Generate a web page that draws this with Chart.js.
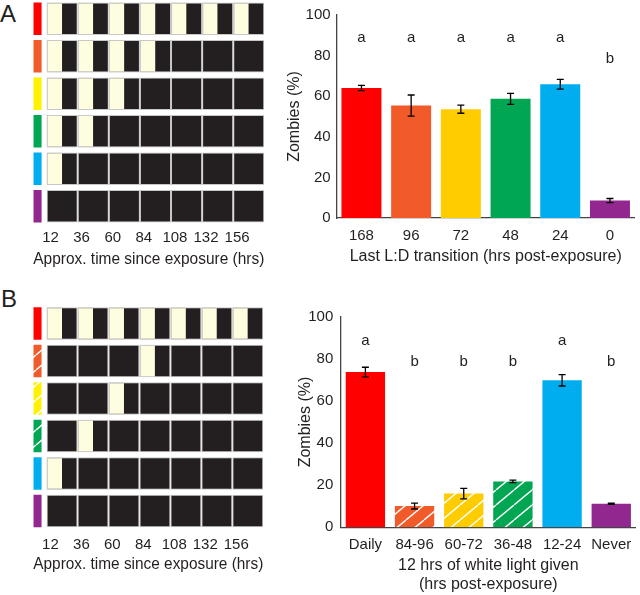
<!DOCTYPE html>
<html>
<head>
<meta charset="utf-8">
<script src="https://cdn.jsdelivr.net/npm/chart.js@4.4.1/dist/chart.umd.min.js"></script>
<style>
  body { margin: 0; background: #fff; width: 640px; height: 595px; position: relative; overflow: hidden;
         font-family: "Liberation Sans", Arial, sans-serif; color: #231f20; }
  canvas { position: absolute; }
  .panel { position: absolute; font-size: 24px; line-height: 24px; }
</style>
</head>
<body>
<div class="panel" style="left:0;top:2px">A</div>
<div class="panel" style="left:1px;top:287px">B</div>
<canvas id="schedA" width="280" height="280" style="left:0;top:0"></canvas>
<canvas id="barsA" width="360" height="280" style="left:280px;top:0"></canvas>
<canvas id="schedB" width="280" height="315" style="left:0;top:280px"></canvas>
<canvas id="barsB" width="360" height="315" style="left:280px;top:280px"></canvas>
<script>
// --- data ---
const timeTicks = [12, 36, 60, 84, 108, 132, 156];
const rowColors = ['#ff0000', '#f15a29', '#fff200', '#00a651', '#00aeef', '#92278f'];

// 1 = lights on for the first 12 h of that day
const scheduleA = [
  [1, 1, 1, 1, 1, 1, 1],
  [1, 1, 1, 1, 0, 0, 0],
  [1, 1, 1, 0, 0, 0, 0],
  [1, 1, 0, 0, 0, 0, 0],
  [1, 0, 0, 0, 0, 0, 0],
  [0, 0, 0, 0, 0, 0, 0]
];
const scheduleB = [
  [1, 1, 1, 1, 1, 1, 1],
  [0, 0, 0, 1, 0, 0, 0],
  [0, 0, 1, 0, 0, 0, 0],
  [0, 1, 0, 0, 0, 0, 0],
  [1, 0, 0, 0, 0, 0, 0],
  [0, 0, 0, 0, 0, 0, 0]
];
const hatchedB = [false, true, true, true, false, false];

const labelsA = ['168', '96', '72', '48', '24', '0'];
const zombiesA = [64.0, 55.4, 53.6, 58.7, 65.9, 8.6];
const errA = [1.3, 5.2, 2.0, 2.7, 2.4, 1.0];
const lettersA = ['a', 'a', 'a', 'a', 'a', 'b'];
const barColorsA = ['#ff0000', '#f15a29', '#ffcc00', '#00a651', '#00aeef', '#92278f'];

const labelsB = ['Daily', '84-96', '60-72', '36-48', '12-24', 'Never'];
const zombiesB = [73.7, 10.1, 16.0, 21.8, 69.8, 11.2];
const errB = [2.3, 1.4, 2.5, 0.6, 2.7, 0.3];
const lettersB = ['a', 'b', 'b', 'b', 'a', 'b'];
const barColorsB = ['#ff0000', '#f15a29', '#ffcc00', '#00a651', '#00aeef', '#92278f'];

const letterLevel = { a: 88.5, b: 78.5 };

// --- style ---
const FONT = '"Liberation Sans", Arial, sans-serif';
const INK = '#231f20';
const AXIS = '#444';
const CREAM = '#fffde0';
const DARK = '#231f20';
const CELL_EDGE = '#c8c8c8';
const DAY = 24, LIGHT = 12;
const X_MIN = -10.3, STRIP_FROM = -10.3, STRIP_TO = -3.9;
const TICK_SHIFT = 9;   // labels sit a little left of the hour they name

function hatch(color) {
  const w = 18, h = 15;
  const c = document.createElement('canvas');
  c.width = w; c.height = h;
  const g = c.getContext('2d');
  g.fillStyle = color;
  g.fillRect(0, 0, w, h);
  g.strokeStyle = '#fff';
  g.lineWidth = 1.4;
  for (const dx of [-w, 0, w]) {
    g.beginPath();
    g.moveTo(dx, h);
    g.lineTo(dx + w, 0);
    g.stroke();
  }
  return g.createPattern(c, 'repeat');
}

function scheduleChart(id, schedule, stripFill, geo) {
  const rows = schedule.map((_, i) => 'row' + i);
  const datasets = [{
    data: rows.map(() => [STRIP_FROM, STRIP_TO]),
    backgroundColor: stripFill,
    borderWidth: 0,
    order: 2
  }];
  for (let d = 0; d < 7; d++) {
    // whole day, dark, with a thin edge
    datasets.push({
      data: rows.map(() => [DAY * d, DAY * (d + 1)]),
      backgroundColor: DARK,
      borderColor: CELL_EDGE,
      borderWidth: 1,
      order: 1
    });
    // light phase on top, only where the lights were on
    datasets.push({
      data: schedule.map(r => r[d] ? [DAY * d, DAY * d + LIGHT] : null),
      backgroundColor: CREAM,
      borderColor: CELL_EDGE,
      borderWidth: { left: 1, top: 1, bottom: 1, right: 0 },
      order: 0
    });
  }

  new Chart(document.getElementById(id), {
    type: 'bar',
    data: { labels: rows, datasets },
    options: {
      responsive: false,
      animation: false,
      indexAxis: 'y',
      layout: { padding: geo.pad },
      datasets: { bar: { grouped: false, barPercentage: 0.867, categoryPercentage: 1, borderSkipped: false } },
      plugins: { legend: { display: false }, tooltip: { enabled: false } },
      scales: {
        y: { display: false },
        x: {
          type: 'linear',
          min: X_MIN,
          max: DAY * 7,
          grid: { display: false, drawTicks: false },
          border: { display: false },
          afterBuildTicks: s => { s.ticks = timeTicks.map(t => ({ value: t - TICK_SHIFT })); },
          ticks: {
            autoSkip: false, maxRotation: 0, padding: geo.tickPad, color: INK,
            font: { family: FONT, size: 15 },
            callback: (v, i) => String(timeTicks[i])
          },
          title: {
            display: true, text: 'Approx. time since exposure (hrs)', color: INK,
            font: { family: FONT, size: 16 }, padding: { top: 0, bottom: geo.titlePad }
          },
          afterFit: s => { s.height = geo.axisHeight; }
        }
      }
    }
  });
}

const errorBars = {
  id: 'errorBars',
  afterDatasetsDraw(chart, args, opts) {
    const { ctx } = chart;
    const y = chart.scales.y;
    const vals = chart.data.datasets[0].data;
    const meta = chart.getDatasetMeta(0);
    ctx.save();
    meta.data.forEach((bar, i) => {
      const hi = y.getPixelForValue(vals[i] + opts.errs[i]);
      const lo = y.getPixelForValue(vals[i] - opts.errs[i]);
      ctx.strokeStyle = '#000';
      ctx.lineWidth = 1.3;
      ctx.beginPath();
      ctx.moveTo(bar.x, hi); ctx.lineTo(bar.x, lo);
      ctx.moveTo(bar.x - 3.5, hi); ctx.lineTo(bar.x + 3.5, hi);
      ctx.moveTo(bar.x - 3.5, lo); ctx.lineTo(bar.x + 3.5, lo);
      ctx.stroke();

      const letter = opts.letters[i];
      ctx.fillStyle = INK;
      ctx.font = '15px ' + FONT;
      ctx.textAlign = 'center';
      ctx.textBaseline = 'middle';
      ctx.fillText(letter, bar.x, y.getPixelForValue(letterLevel[letter]));
    });
    ctx.restore();
  }
};

function barChart(id, labels, values, errs, letters, fills, xTitle, geo) {
  new Chart(document.getElementById(id), {
    type: 'bar',
    data: {
      labels,
      datasets: [{ data: values, backgroundColor: fills, barPercentage: geo.barPct, categoryPercentage: 1 }]
    },
    options: {
      responsive: false,
      animation: false,
      layout: { padding: geo.pad },
      plugins: {
        legend: { display: false },
        tooltip: { enabled: false },
        errorBars: { errs, letters }
      },
      scales: {
        x: {
          grid: { display: false, drawTicks: false },
          border: { display: true, color: AXIS, width: 1.3 },
          ticks: { padding: geo.xTickPad, color: INK, font: { family: FONT, size: 15 } },
          title: {
            display: true, text: xTitle, color: INK,
            font: { family: FONT, size: 16 }, padding: { top: 0, bottom: geo.xTitlePad }
          },
          afterFit: s => { s.height = geo.xHeight; }
        },
        y: {
          min: 0,
          max: 100,
          grid: { display: false, drawTicks: false },
          border: { display: true, color: AXIS, width: 1.3 },
          ticks: { stepSize: 20, padding: geo.yTickPad, color: INK, font: { family: FONT, size: 15 } },
          title: {
            display: true, text: 'Zombies (%)', color: INK,
            font: { family: FONT, size: 16 }, padding: { top: geo.yTitlePad, bottom: 0 }
          },
          afterFit: s => { s.width = geo.yWidth; }
        }
      }
    },
    plugins: [errorBars]
  });
}

const stripA = rowColors;
const stripB = rowColors.map((c, i) => hatchedB[i] ? hatch(c) : c);
const fillsA = barColorsA;
const fillsB = barColorsB.map((c, i) => hatchedB[i] ? hatch(c) : c);

scheduleChart('schedA', scheduleA, stripA, {
  pad: { left: 33.3, right: 15.7, top: 0, bottom: 0 },
  axisHeight: 55, tickPad: 4.3, titlePad: 10.4
});
scheduleChart('schedB', scheduleB, stripB, {
  pad: { left: 33.3, right: 16.7, top: 24.8, bottom: 0 },
  axisHeight: 65.2, tickPad: 6.2, titlePad: 20.4
});

barChart('barsA', labelsA, zombiesA, errA, lettersA, fillsA,
  'Last L:D transition (hrs post-exposure)', {
    pad: { left: 0, right: 5.2, top: 10, bottom: 0 },
    yWidth: 56.6, xHeight: 62, xTickPad: 8.7, xTitlePad: 13.7,
    yTickPad: 6, yTitlePad: 5.4, barPct: 0.805
  });
barChart('barsB', labelsB, zombiesB, errB, lettersB, fillsB,
  ['12 hrs of white light given', '(hrs post-exposure)'], {
    pad: { left: 0, right: 0.4, top: 36.7, bottom: 0 },
    yWidth: 60.8, xHeight: 67.7, xTickPad: 8.7, xTitlePad: 0.4,
    yTickPad: 7.5, yTitlePad: 16.2, barPct: 0.8
  });
</script>
</body>
</html>
